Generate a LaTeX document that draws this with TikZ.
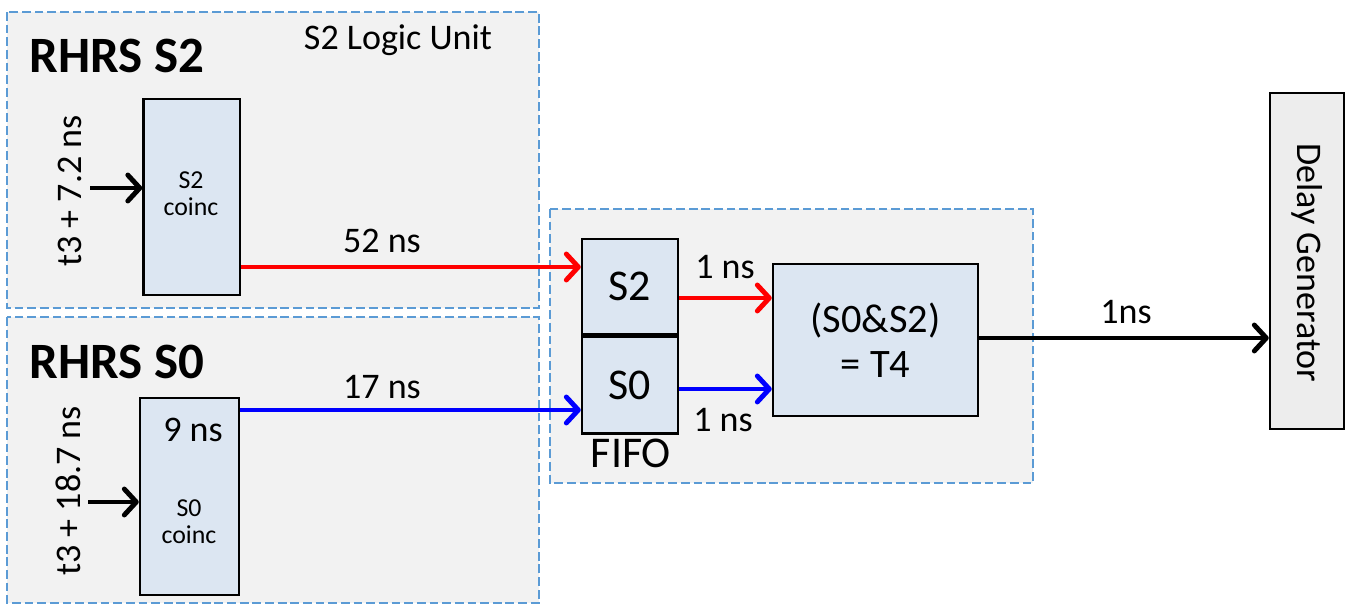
\documentclass[tikz,border=0pt]{standalone}
\usepackage{fontspec}
\setmainfont{Carlito}
\definecolor{regionfill}{RGB}{242, 242, 242}
\definecolor{regionline}{RGB}{91, 155, 213}
\definecolor{blockfill}{RGB}{220, 230, 242}
\definecolor{delayfill}{RGB}{237, 237, 237}
\usetikzlibrary{
    arrows.meta,
    positioning
}
\tikzset{
    region/.style={draw=regionline, fill=regionfill, line width=1.1pt, dash pattern=on 5pt off 2.2pt},
    logicbox/.style={draw=black, fill=blockfill, line width=1.4pt, inner sep=0pt},
    sig/.style={-{Straight Barb[length=0.24cm, width=0.52cm, round]}, line width=2.8pt},
    txt/.style={font=\fontsize{20.5}{25}\selectfont, inner sep=0pt},
    titletxt/.style={font=\fontsize{29}{34}\selectfont\bfseries, inner sep=0pt},
    boxtxt/.style={font=\fontsize{25}{30}\selectfont, inner sep=0pt},
    coinctxt/.style={font=\fontsize{14.7}{15.5}\selectfont, align=center, inner sep=0pt}
}

\begin{document}
\begin{tikzpicture}
    \useasboundingbox (0,0) rectangle (26.92,-12.12);

    % Logic units
    \draw[region] (0.14,-0.24) rectangle (10.78,-6.16);
    \draw[region] (0.14,-6.34) rectangle (10.78,-12.06);
    \draw[region] (11.0,-4.18) rectangle (20.66,-9.66);

    % RHRS S2
    \node[titletxt, anchor=base west] (s2title) at (0.58,-1.44) {RHRS S2};
    \node[txt] (s2unit) at (7.96,-0.80) {S2 Logic Unit};
    \node[logicbox, minimum width=1.93cm, minimum height=3.92cm] (s2coinc) at (3.835,-3.94) {};
    \node[coinctxt] (s2coinctxt) at (3.82,-3.87) {S2\\coinc};
    \node[txt, rotate=90] (s2delay) at (1.40,-3.82) {t3 + 7.2 ns};
    \coordinate (s2in) at (1.80,-3.76);

    % RHRS S0
    \node[titletxt, anchor=base west] (s0title) at (0.58,-7.56) {RHRS S0};
    \node[logicbox, minimum width=1.98cm, minimum height=3.94cm] (s0coinc) at (3.79,-9.93) {};
    \node[txt] (s0width) at (3.86,-8.60) {9 ns};
    \node[coinctxt] (s0coinctxt) at (3.78,-10.44) {S0\\coinc};
    \node[txt, rotate=90] (s0delay) at (1.36,-9.82) {t3 + 18.7 ns};
    \coordinate (s0in) at (1.76,-10.04);

    % FIFO and coincidence
    \node[logicbox, boxtxt, minimum width=1.92cm, minimum height=1.90cm] (fifos2) at (12.60,-5.73) {S2};
    \node[logicbox, boxtxt, minimum width=1.92cm, minimum height=1.94cm, below=0cm of fifos2] (fifos0) {S0};
    \node[boxtxt] (fifo) at (12.62,-9.06) {FIFO};
    \node[logicbox, minimum width=4.10cm, minimum height=3.04cm, align=center,
          font=\fontsize{23}{25.6}\selectfont] (t4) at (17.51,-6.80) {(S0\&S2)\\= T4};

    % Delay generator
    \node[draw=black, fill=delayfill, line width=1.4pt, minimum width=1.48cm, minimum height=6.72cm] (delay) at (26.14,-5.22) {};
    \node[txt, rotate=-90] (delaytxt) at (26.14,-5.26) {Delay Generator};

    % Signals
    \draw[sig] (s2in) -- (s2coinc.west |- s2in);
    \draw[sig] (s0in) -- (s0coinc.west |- s0in);
    \draw[sig, red] (s2coinc.east |- 0,-5.34) -- (fifos2.west |- 0,-5.34);
    \draw[sig, blue] (s0coinc.east |- 0,-8.20) -- (fifos0.west |- 0,-8.20);
    \draw[sig, red] (fifos2.east |- 0,-5.96) -- (t4.west |- 0,-5.96);
    \draw[sig, blue] (fifos0.east |- 0,-7.78) -- (t4.west |- 0,-7.78);
    \draw[sig] (t4.east |- 0,-6.76) -- (delay.west |- 0,-6.76);

    % Delays
    \node[txt] (d52) at (7.64,-4.82) {52 ns};
    \node[txt] (d17) at (7.64,-7.74) {17 ns};
    \node[txt] (d1a) at (14.50,-5.34) {1 ns};
    \node[txt] (d1b) at (14.46,-8.40) {1 ns};
    \node[txt] (d1c) at (22.52,-6.24) {1ns};
\end{tikzpicture}
\end{document}
